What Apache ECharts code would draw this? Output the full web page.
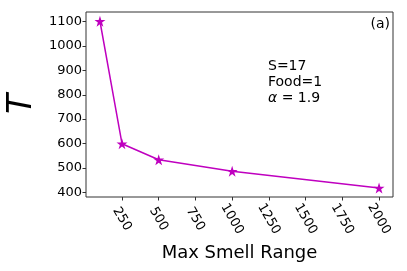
<!DOCTYPE html>
<html>
<head>
<meta charset="utf-8">
<script src="https://cdn.jsdelivr.net/npm/echarts@6/dist/echarts.min.js"></script>
<style>
html,body{margin:0;padding:0;background:#fff;}
#c{width:407px;height:271px;}
</style>
</head>
<body>
<div id="c"></div>
<script>
const smellRange = [100, 250, 500, 1000, 2000];
const tValues = [1102, 599, 533, 486, 417];
const xTicks = [250, 500, 750, 1000, 1250, 1500, 1750, 2000];
const yTicks = [400, 500, 600, 700, 800, 900, 1000, 1100];
const annotLines = ['S=17', 'Food=1', '{i|α} = 1.9'];
const yTitle = 'T';
const xTitle = 'Max Smell Range';

const FONT = 'DejaVu Sans';
const star = 'path://M0,-10 L2.245,-3.09 L9.511,-3.09 L3.633,1.18 L5.878,8.09 L0,3.82 L-5.878,8.09 L-3.633,1.18 L-9.511,-3.09 L-2.245,-3.09 Z';

const chart = echarts.init(document.getElementById('c'), null, {renderer: 'canvas'});
chart.setOption({
  animation: false,
  backgroundColor: '#fff',
  grid: {left: 86, top: 12, width: 307, height: 185, show: true, borderColor: '#333', borderWidth: 1, containLabel: false},
  xAxis: {
    type: 'value', min: 5, max: 2095,
    name: xTitle, nameLocation: 'middle', nameGap: 38,
    nameTextStyle: {fontFamily: FONT, fontSize: 18, color: '#000'},
    axisLine: {show: false},
    axisTick: {show: true, inside: false, length: 3.5, lineStyle: {color: '#333', width: 1}, customValues: xTicks},
    axisLabel: {customValues: xTicks, rotate: -60, align: 'center', verticalAlign: 'middle', margin: 22,
      formatter: v => String(v), fontFamily: FONT, fontSize: 13, color: '#000'},
    splitLine: {show: false}
  },
  yAxis: {
    type: 'value', min: 380, max: 1140,
    axisLine: {show: false},
    axisTick: {show: true, inside: false, length: 3.5, lineStyle: {color: '#333', width: 1}, customValues: yTicks},
    axisLabel: {customValues: yTicks, margin: 4, formatter: v => String(v), fontFamily: FONT, fontSize: 13, color: '#000'},
    splitLine: {show: false}
  },
  graphic: [
    {type: 'text', x: 22, y: 104, rotation: Math.PI / 2,
      style: {text: yTitle, fontFamily: FONT, fontSize: 33, fontStyle: 'italic', fill: '#000', align: 'center', verticalAlign: 'middle'}},
    {type: 'text', right: 17, top: 17, style: {text: '(a)', fontFamily: FONT, fontSize: 14, fill: '#000'}},
    {type: 'text', left: 268, top: 58, style: {
      text: annotLines.join('\n'), fontFamily: FONT, fontSize: 14, lineHeight: 16, fill: '#000',
      rich: {i: {fontFamily: FONT, fontSize: 14, fontStyle: 'italic', lineHeight: 16}}
    }}
  ],
  series: [{
    type: 'line',
    data: smellRange.map((x, i) => [x, tValues[i]]),
    lineStyle: {color: '#bf00bf', width: 1.5},
    itemStyle: {color: '#bf00bf'},
    symbol: star, symbolSize: 11,
    z: 3
  }]
});
</script>
</body>
</html>
